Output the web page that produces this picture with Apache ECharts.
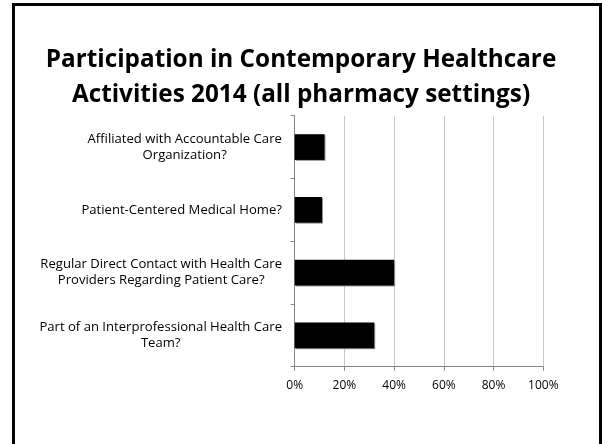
<!DOCTYPE html>
<html>
<head>
<meta charset="utf-8">
<script src="https://cdn.jsdelivr.net/npm/echarts@6/dist/echarts.min.js"></script>
<style>
html,body{margin:0;padding:0;background:#fff;}
#chart{width:602px;height:444px;}
</style>
</head>
<body>
<div id="chart"></div>
<script>
var titleText = "Participation in Contemporary Healthcare\nActivities 2014 (all pharmacy settings)";
var categories = [
  "Affiliated with Accountable Care\nOrganization?",
  "Patient-Centered Medical Home?",
  "Regular Direct Contact with Health Care\nProviders Regarding Patient Care?",
  "Part of an Interprofessional Health Care\nTeam?"
];
var values = [12, 11, 40, 32];
var xTicks = {min: 0, max: 100, interval: 20};

var ctx = document.createElement('canvas').getContext('2d');
function fitSize(text, font, weight, target) {
  ctx.font = weight + ' 100px "' + font + '"';
  return Math.round(100 * target / ctx.measureText(text).width * 10) / 10;
}
var titleSize = fitSize(titleText.split('\n')[0], 'Open Sans', 'bold', 510);
var labelSize = fitSize(categories[0].split('\n')[0], 'Open Sans', 'normal', 194);

ctx.font = labelSize + 'px "Open Sans"';
var rich = {};
categories.forEach(function (c, i) {
  var w = 0;
  c.split('\n').forEach(function (l) { w = Math.max(w, ctx.measureText(l).width); });
  rich['c' + i] = {width: Math.ceil(w) + 1, align: 'center', lineHeight: 16, fontSize: labelSize, fontFamily: 'Open Sans', color: '#000'};
});

var chart = echarts.init(document.getElementById('chart'));
chart.setOption({
  animation: false,
  title: {
    text: titleText,
    left: 'center',
    top: 43,
    padding: 0,
    textStyle: {fontFamily: 'Open Sans', fontWeight: 'bold', fontSize: titleSize, lineHeight: 35, color: '#000'}
  },
  graphic: [{
    type: 'rect',
    shape: {x: 13.5, y: 4.5, width: 587, height: 500},
    style: {fill: 'none', stroke: '#000', lineWidth: 3},
    silent: true
  }],
  grid: {left: 294.7, right: 58.7, top: 115.7, bottom: 77.3, containLabel: false},
  xAxis: {
    type: 'value',
    min: xTicks.min, max: xTicks.max, interval: xTicks.interval,
    axisLine: {show: true, lineStyle: {color: '#868686', width: 1}},
    axisTick: {show: true, length: 4, lineStyle: {color: '#868686'}},
    splitLine: {show: true, lineStyle: {color: '#c8c8c8', width: 1}},
    axisLabel: {formatter: '{value}%', margin: 13, fontFamily: 'Open Sans', fontSize: 12, color: '#000'}
  },
  yAxis: {
    type: 'category',
    inverse: true,
    data: categories,
    axisLine: {show: true, lineStyle: {color: '#868686', width: 1}},
    axisTick: {show: true, length: 4, alignWithLabel: false, lineStyle: {color: '#868686'}},
    axisLabel: {
      margin: 12,
      align: 'right',
      formatter: function (v, i) {
        return v.split('\n').map(function (l) { return '{c' + i + '|' + l + '}'; }).join('\n');
      },
      rich: rich
    }
  },
  series: [{
    type: 'bar',
    data: values,
    barCategoryGap: '59%',
    itemStyle: {color: '#000', shadowColor: '#999', shadowOffsetX: 1, shadowOffsetY: 1, shadowBlur: 0}
  }]
});
</script>
</body>
</html>
